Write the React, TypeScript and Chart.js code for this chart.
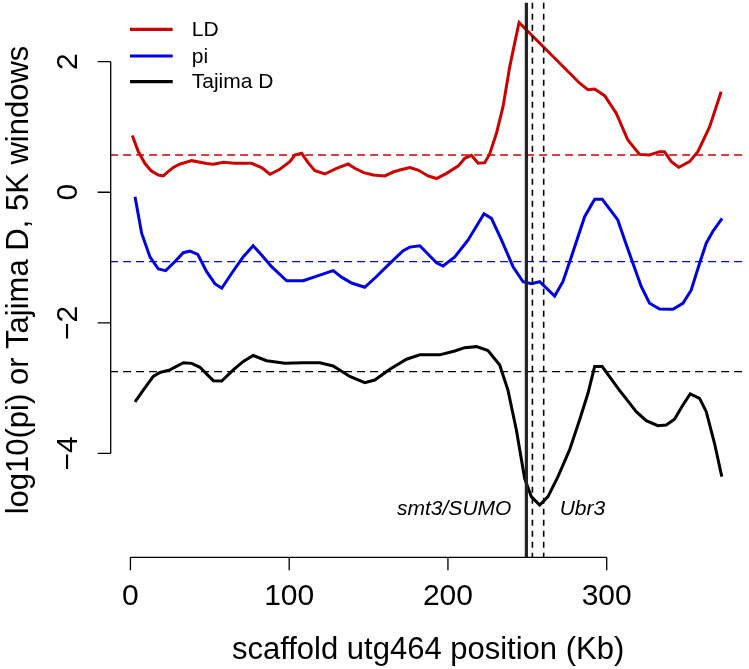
import React, { useEffect, useRef } from "react";
import { Chart, registerables } from "chart.js";

Chart.register(...registerables);

// ---- data (kb positions and values) ----
const ldKb = [1.2, 5, 9.2, 13, 17.6, 20.7, 23, 27, 31, 38.6, 48, 52.2, 58.5, 65.8, 76.3, 82.6, 87.9, 94.1, 100.4, 103.6, 107.8, 112, 116.2, 122.5, 129.8, 137.1, 141.3, 147, 152.9, 160.2, 165.5, 169.7, 176, 181.2, 187.5, 192.8, 199.1, 206.4, 210.6, 214.8, 219, 223.2, 226.3, 230.5, 234.7, 238.9, 242, 244.8, 283, 288.2, 292.4, 298.7, 306, 313.3, 320.7, 327, 333.3, 336.4, 340.7, 345.4, 352.2, 357.4, 364.8, 372.1];
const ldVal = [0.87, 0.62, 0.44, 0.33, 0.265, 0.25, 0.3, 0.38, 0.43, 0.484, 0.44, 0.43, 0.46, 0.444, 0.444, 0.377, 0.276, 0.352, 0.469, 0.571, 0.597, 0.45, 0.33, 0.28, 0.367, 0.433, 0.367, 0.3, 0.265, 0.25, 0.31, 0.34, 0.38, 0.34, 0.25, 0.21, 0.29, 0.4, 0.52, 0.566, 0.444, 0.453, 0.587, 0.9, 1.31, 1.92, 2.28, 2.6, 1.67, 1.57, 1.58, 1.48, 1.21, 0.8, 0.58, 0.571, 0.622, 0.622, 0.469, 0.383, 0.469, 0.622, 1.0, 1.54];

const piKb = [2.9, 7.1, 12.3, 17.6, 22.2, 28.1, 33.3, 37.5, 42.4, 48, 53.2, 57.5, 63.8, 71, 77.3, 82.6, 88.9, 98.4, 108.8, 119.3, 127.7, 133, 139.3, 147.6, 155, 163.4, 171.8, 176, 182.3, 192.8, 196.9, 204.3, 212.7, 222.7, 227.4, 233.7, 241, 247.3, 252.5, 257.8, 267.2, 272.4, 277.7, 286.1, 292.4, 297.2, 307, 311.3, 316.5, 321.8, 327, 333.3, 341.7, 348, 353.2, 358.5, 362.7, 366.8, 372.7];
const piVal = [-0.07, -0.63, -0.99, -1.175, -1.2, -1.06, -0.925, -0.9, -0.95, -1.215, -1.4, -1.47, -1.24, -0.99, -0.82, -0.96, -1.14, -1.355, -1.355, -1.27, -1.2, -1.3, -1.39, -1.455, -1.29, -1.09, -0.895, -0.84, -0.82, -1.08, -1.13, -0.99, -0.73, -0.33, -0.4, -0.73, -1.14, -1.37, -1.4, -1.37, -1.59, -1.37, -0.99, -0.374, -0.107, -0.107, -0.424, -0.73, -1.087, -1.446, -1.7, -1.787, -1.792, -1.7, -1.5, -1.087, -0.78, -0.6, -0.4];

const tdKb = [2.9, 8.1, 14.4, 18.6, 24.9, 33.3, 38.6, 43.8, 52.2, 57.5, 64.8, 71.1, 77.3, 85.8, 97.3, 108.8, 119.3, 127.7, 138.2, 147.6, 153.9, 163.4, 173.9, 182.3, 194.8, 204.3, 210.6, 218, 225.2, 232.6, 237.8, 243.1, 248.3, 252.5, 257.8, 263, 269.3, 276.6, 282.9, 288.2, 292.4, 297.2, 307, 318.6, 324.9, 332.2, 337.5, 342.7, 348, 352.6, 358.5, 362.7, 367.9, 372.5];
const tdVal = [-3.21, -3.03, -2.82, -2.76, -2.72, -2.61, -2.62, -2.68, -2.885, -2.89, -2.72, -2.59, -2.5, -2.58, -2.62, -2.61, -2.61, -2.66, -2.82, -2.915, -2.875, -2.71, -2.557, -2.49, -2.49, -2.43, -2.38, -2.364, -2.425, -2.645, -3.03, -3.64, -4.38, -4.66, -4.79, -4.66, -4.355, -3.946, -3.487, -3.078, -2.67, -2.67, -3.0, -3.36, -3.497, -3.574, -3.563, -3.476, -3.257, -3.089, -3.155, -3.36, -3.844, -4.355];

const seriesNames = ["LD", "pi", "Tajima D"];
const seriesColors = ["#CD0000", "#0000E6", "#000000"];
const meanLevels = [0.571, -1.063, -2.747];

const geneSolid = [249.4];
const geneDashed = [253.2, 260.3];
const geneLabels = ["smt3/SUMO", "Ubr3"];

const xTicks = [0, 100, 200, 300];
const yTicks = [-4, -2, 0, 2];
const xTitle = "scaffold utg464 position (Kb)";
const yTitle = "log10(pi) or Tajima D, 5K windows";

const X_MIN = -12.8;
const X_MAX = 387.8;
const Y_MIN = -5.59;
const Y_MAX = 2.903;

const FONT = "'Liberation Sans', Arial, Helvetica, sans-serif";

function pts(xs: number[], ys: number[]) {
  return xs.map((x, i) => ({ x, y: ys[i] }));
}

const annotPlugin = {
  id: "rstyle",
  afterDatasetsDraw(chart: any) {
    const ctx: CanvasRenderingContext2D = chart.ctx;
    const xs = chart.scales.x;
    const ys = chart.scales.y;
    const area = chart.chartArea;
    ctx.save();
    // mean lines
    ctx.lineWidth = 1.3;
    ctx.setLineDash([8, 5]);
    meanLevels.forEach((v, i) => {
      const y = ys.getPixelForValue(v);
      ctx.strokeStyle = seriesColors[i];
      ctx.beginPath();
      ctx.moveTo(area.left, y);
      ctx.lineTo(area.right, y);
      ctx.stroke();
    });
    // gene lines
    ctx.strokeStyle = "#000";
    ctx.lineWidth = 1.6;
    ctx.setLineDash([6, 5]);
    geneDashed.forEach((g) => {
      const x = xs.getPixelForValue(g);
      ctx.beginPath();
      ctx.moveTo(x, area.top);
      ctx.lineTo(x, area.bottom);
      ctx.stroke();
    });
    ctx.setLineDash([]);
    ctx.lineWidth = 3.2;
    ctx.strokeStyle = "#222";
    geneSolid.forEach((g) => {
      const x = xs.getPixelForValue(g);
      ctx.beginPath();
      ctx.moveTo(x, area.top);
      ctx.lineTo(x, area.bottom);
      ctx.stroke();
    });
    // gene labels
    ctx.fillStyle = "#000";
    ctx.font = `italic 21px ${FONT}`;
    ctx.textBaseline = "middle";
    ctx.textAlign = "right";
    ctx.fillText(geneLabels[0], xs.getPixelForValue(geneSolid[0]) - 15, 509);
    ctx.textAlign = "left";
    ctx.fillText(geneLabels[1], xs.getPixelForValue(geneDashed[1]) + 16, 509);

    // x axis
    ctx.strokeStyle = "#000";
    ctx.lineWidth = 1.3;
    const axY = area.bottom;
    const x0 = xs.getPixelForValue(xTicks[0]);
    const x1 = xs.getPixelForValue(xTicks[xTicks.length - 1]);
    ctx.beginPath();
    ctx.moveTo(x0, axY);
    ctx.lineTo(x1, axY);
    xTicks.forEach((t) => {
      const x = xs.getPixelForValue(t);
      ctx.moveTo(x, axY);
      ctx.lineTo(x, axY + 13);
    });
    ctx.stroke();
    ctx.font = `30px ${FONT}`;
    ctx.textAlign = "center";
    ctx.textBaseline = "middle";
    xTicks.forEach((t) => {
      ctx.fillText(String(t), xs.getPixelForValue(t), 597);
    });
    ctx.font = `31px ${FONT}`;
    ctx.fillText(xTitle, (area.left + area.right) / 2, 650);

    // y axis
    const axX = area.left + 0.6;
    const y0 = ys.getPixelForValue(yTicks[0]);
    const y1 = ys.getPixelForValue(yTicks[yTicks.length - 1]);
    ctx.beginPath();
    ctx.moveTo(axX, y0);
    ctx.lineTo(axX, y1);
    yTicks.forEach((t) => {
      const y = ys.getPixelForValue(t);
      ctx.moveTo(axX, y);
      ctx.lineTo(axX - 13, y);
    });
    ctx.stroke();
    ctx.font = `30px ${FONT}`;
    yTicks.forEach((t) => {
      const y = ys.getPixelForValue(t);
      ctx.save();
      ctx.translate(69, y);
      ctx.rotate(-Math.PI / 2);
      ctx.fillText(t < 0 ? "\u2212" + Math.abs(t) : String(t), 0, 0);
      ctx.restore();
    });
    ctx.save();
    ctx.font = `31px ${FONT}`;
    ctx.translate(19, (area.top + area.bottom) / 2);
    ctx.rotate(-Math.PI / 2);
    ctx.fillText(yTitle, 0, 0);
    ctx.restore();

    // legend
    const legY = [29.3, 56, 81.7];
    ctx.font = `21px ${FONT}`;
    ctx.textAlign = "left";
    seriesNames.forEach((n, i) => {
      ctx.strokeStyle = seriesColors[i];
      ctx.lineWidth = 3.2;
      ctx.beginPath();
      ctx.moveTo(130, legY[i]);
      ctx.lineTo(172.7, legY[i]);
      ctx.stroke();
      ctx.fillStyle = "#000";
      ctx.fillText(n, 191.7, legY[i] + 1);
    });
    ctx.restore();
  },
};

export default function App() {
  const ref = useRef<HTMLCanvasElement>(null);
  useEffect(() => {
    if (!ref.current) return;
    const mk = (i: number, xs: number[], ys: number[]) => ({
      label: seriesNames[i],
      data: pts(xs, ys),
      borderColor: seriesColors[i],
      backgroundColor: seriesColors[i],
      borderWidth: 3,
      pointRadius: 0,
      tension: 0,
      fill: false,
    });
    const chart = new Chart(ref.current, {
      type: "line",
      data: {
        datasets: [mk(0, ldKb, ldVal), mk(1, piKb, piVal), mk(2, tdKb, tdVal)],
      },
      options: {
        responsive: false,
        animation: false,
        devicePixelRatio: 1,
        layout: {
          padding: { left: 110.1, right: 749 - 746.1, top: 2.7, bottom: 669 - 557.3 },
        },
        plugins: { legend: { display: false }, tooltip: { enabled: false } },
        scales: {
          x: { type: "linear", min: X_MIN, max: X_MAX, display: false },
          y: { type: "linear", min: Y_MIN, max: Y_MAX, display: false },
        },
      },
      plugins: [annotPlugin],
    });
    return () => chart.destroy();
  }, []);
  return (
    <div style={{ position: "absolute", left: 0, top: 0, width: 749, height: 669, background: "#fff" }}>
      <canvas ref={ref} width={749} height={669} />
    </div>
  );
}
